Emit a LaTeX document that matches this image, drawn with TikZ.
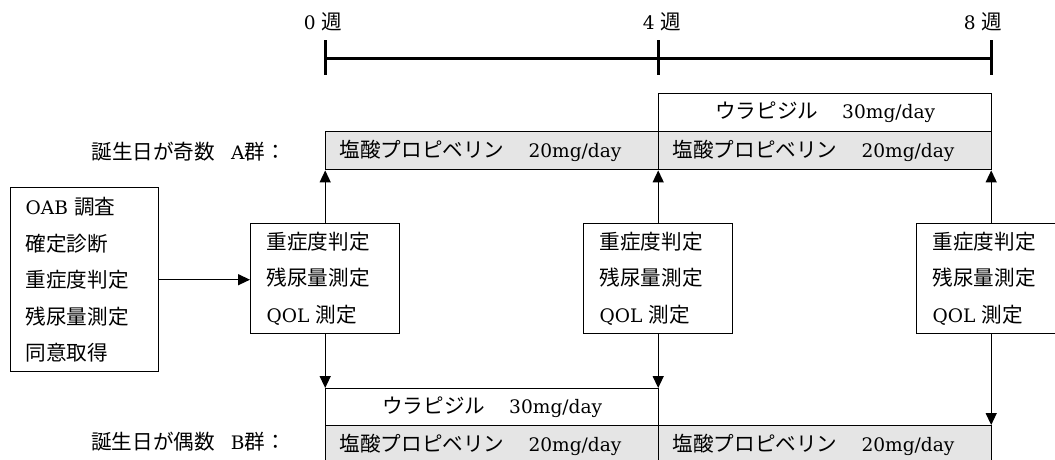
\documentclass[tikz,border=0pt]{standalone}
\usepackage{fontspec}
\setmainfont{DejaVu Serif}[Scale=0.93]
\newfontfamily\cjk{Noto Sans CJK JP}[Scale=1.03]
\usetikzlibrary{arrows.meta}
\newcommand{\jp}[1]{{\cjk #1}}
\begin{document}
\begin{tikzpicture}[x=1pt,y=-1pt,
  every node/.style={font=\fontsize{20}{36.5}\selectfont, inner sep=0pt},
  box/.style={draw, line width=1.4pt, align=left},
  shadebox/.style={draw, line width=1.4pt, fill=gray!20, minimum width=333pt, minimum height=38pt, text width=305pt, align=left},
  drugbox/.style={draw, line width=1.4pt, fill=white, minimum width=333pt, minimum height=38pt, align=center},
  arr/.style={line width=1.4pt, -{Triangle[length=12pt,width=11pt]}},
  axis/.style={line width=3pt},
  lbl/.style={anchor=east}
]
\useasboundingbox (0,0) rectangle (1055,459);
\clip (0,0) rectangle (1055,459);

% timeline
\coordinate (t0) at (325,58);
\coordinate (t4) at (658,58);
\coordinate (t8) at (991,58);
\coordinate (t0a) at (325,40); \coordinate (t0b) at (325,75);
\coordinate (t4a) at (658,40); \coordinate (t4b) at (658,75);
\coordinate (t8a) at (991,40); \coordinate (t8b) at (991,75);
\draw[axis] (t0) -- (t8);
\draw[axis] (t0a) -- (t0b);
\draw[axis] (t4a) -- (t4b);
\draw[axis] (t8a) -- (t8b);
\node (w0) at (323,22) {0 \jp{週}};
\node (w4) at (662,22) {4 \jp{週}};
\node (w8) at (983,22) {8 \jp{週}};

% group A
\node[lbl] (la) at (286,152) {\jp{誕生日が奇数}\hspace{16pt}A\jp{群：}};
\node[drugbox, anchor=north west] (a0) at (658,93) {\jp{ウラピジル}\hspace{24pt}30mg/day};
\node[shadebox, anchor=north west] (a1) at (325,131) {\jp{塩酸プロピベリン}\hspace{24pt}20mg/day};
\node[shadebox, anchor=north west] (a2) at (658,131) {\jp{塩酸プロピベリン}\hspace{24pt}20mg/day};

% pre box
\node[box, anchor=north west, minimum width=148pt, minimum height=184pt, text width=118pt] (pre) at (10,187)
  {OAB \jp{調査}\\\jp{確定診断}\\\jp{重症度判定}\\\jp{残尿量測定}\\\jp{同意取得}};

% assessment boxes
\node[box, anchor=north west, minimum width=149pt, minimum height=110pt, text width=117pt] (m1) at (250,223)
  {\jp{重症度判定}\\\jp{残尿量測定}\\QOL \jp{測定}};
\node[box, anchor=north west, minimum width=149pt, minimum height=110pt, text width=117pt] (m2) at (583,223)
  {\jp{重症度判定}\\\jp{残尿量測定}\\QOL \jp{測定}};
\node[box, anchor=north west, minimum width=149pt, minimum height=110pt, text width=117pt] (m3) at (916,223)
  {\jp{重症度判定}\\\jp{残尿量測定}\\QOL \jp{測定}};

% group B
\node[lbl] (lb) at (286,442) {\jp{誕生日が偶数}\hspace{16pt}B\jp{群：}};
\node[drugbox, anchor=north west] (b0) at (325,388) {\jp{ウラピジル}\hspace{24pt}30mg/day};
\node[shadebox, anchor=north west] (b1) at (325,425) {\jp{塩酸プロピベリン}\hspace{24pt}20mg/day};
\node[shadebox, anchor=north west] (b2) at (658,425) {\jp{塩酸プロピベリン}\hspace{24pt}20mg/day};

% arrows
\draw[arr] (pre.east) -- (pre.east -| m1.west);
\draw[arr] (m1.north) -- (m1.north |- a1.south);
\draw[arr] (m2.north) -- (m2.north |- a2.south);
\draw[arr] (m3.north) -- (m3.north |- a2.south);
\draw[arr] (m1.south) -- (m1.south |- b0.north);
\draw[arr] (m2.south) -- (m2.south |- b0.north);
\draw[arr] (m3.south) -- (m3.south |- b2.north);
\end{tikzpicture}
\end{document}
